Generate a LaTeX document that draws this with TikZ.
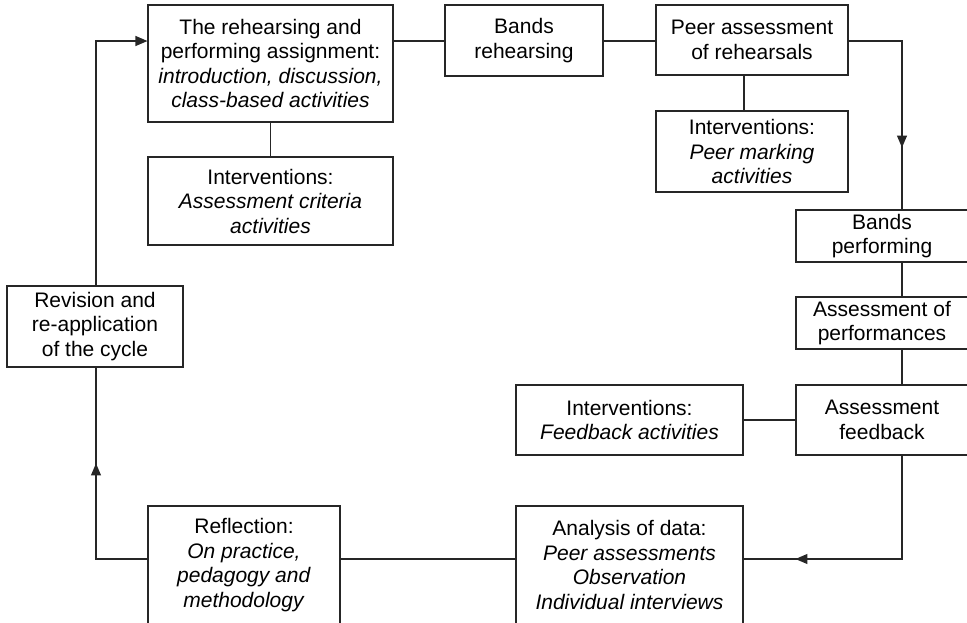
\documentclass[tikz,border=0pt]{standalone}
\usepackage{fontspec}
\setmainfont{Liberation Sans}
\usepackage{tikz}
\usetikzlibrary{calc, arrows.meta, decorations.markings}

\tikzset{
  stage/.style={draw=black!85, line width=1.1pt, align=center, inner sep=0pt,
    font=\fontsize{21}{24.5}\selectfont},
  link/.style={draw=black!85, line width=1.1pt},
  tip/.style={-{Triangle[length=12pt,width=10pt]}},
  midtip/.style={postaction={decorate}, decoration={markings,
    mark=at position #1 with {\arrow{Triangle[length=12pt,width=10pt]}}}}
}

\begin{document}
\begin{tikzpicture}[x=1pt, y=-1pt]
                \useasboundingbox (0,0) rectangle (967,622);
                \coordinate (T) at (0,41);
                \coordinate (B) at (0,559);
                \coordinate (L) at (96,0);
                \coordinate (R) at (902,0);
                \coordinate (M) at (744,0);
                \node[stage, minimum width=245, minimum height=117] (assign) at (270.5,63.5)
                    {The rehearsing and\\performing assignment:\\\textit{introduction, discussion,}\\\textit{class-based activities}};
                \node[stage, minimum width=245, minimum height=88] (critint) at (270.5,201)
                    {Interventions:\\\textit{Assessment criteria}\\\textit{activities}};
                \node[stage, minimum width=158, minimum height=71] (bandsreh) at (524,40.5) {Bands\\rehearsing};
                \node[stage, minimum width=192, minimum height=70] (peer) at (752,40) {Peer assessment\\of rehearsals};
                \node[stage, minimum width=192, minimum height=81] (markint) at (752,151.5)
                    {Interventions:\\\textit{Peer marking}\\\textit{activities}};
                \node[stage, minimum width=172, minimum height=52] (bandsperf) at (882,236) {Bands\\performing};
                \node[stage, minimum width=172, minimum height=52] (assessperf) at (882,323) {Assessment of\\performances};
                \node[stage, minimum width=172, minimum height=70] (feedback) at (882,420) {Assessment\\feedback};
                \node[stage, minimum width=227, minimum height=70] (fbint) at (629.5,420)
                    {Interventions:\\\textit{Feedback activities}};
                \node[stage, minimum width=227, minimum height=118] (analysis) at (629.5,565)
                    {Analysis of data:\\\textit{Peer assessments}\\\textit{Observation}\\\textit{Individual interviews}};
                \node[stage, minimum width=192, minimum height=118] (reflection) at (244,565)
                    {Reflection:\\\textit{On practice,}\\\textit{pedagogy and}\\\textit{methodology}};
                \node[stage, minimum width=176, minimum height=81] (revision) at (95,326.5)
                    {Revision and\\re-application\\of the cycle};
                \draw[link] (assign.south) -- (critint.north);
                \draw[link] (assign.east |- T) -- (bandsreh.west |- T);
                \draw[link] (bandsreh.east |- T) -- (peer.west |- T);
                \draw[link] (peer.south -| M) -- (markint.north -| M);
                \draw[link, midtip=160pt] (peer.east |- T) -| (bandsperf.north -| R);
                \draw[link] (bandsperf.south -| R) -- (assessperf.north -| R);
                \draw[link] (assessperf.south -| R) -- (feedback.north -| R);
                \draw[link] (fbint.east) -- (feedback.west);
                \draw[link, midtip=210pt] (feedback.south -| R) |- (analysis.east |- B);
                \draw[link] (analysis.west |- B) -- (reflection.east |- B);
                \draw[link, midtip=147pt] (reflection.west |- B) -| (revision.south -| L);
                \draw[link, tip] (revision.north -| L) |- (assign.west |- T);
            \end{tikzpicture}
\end{document}
